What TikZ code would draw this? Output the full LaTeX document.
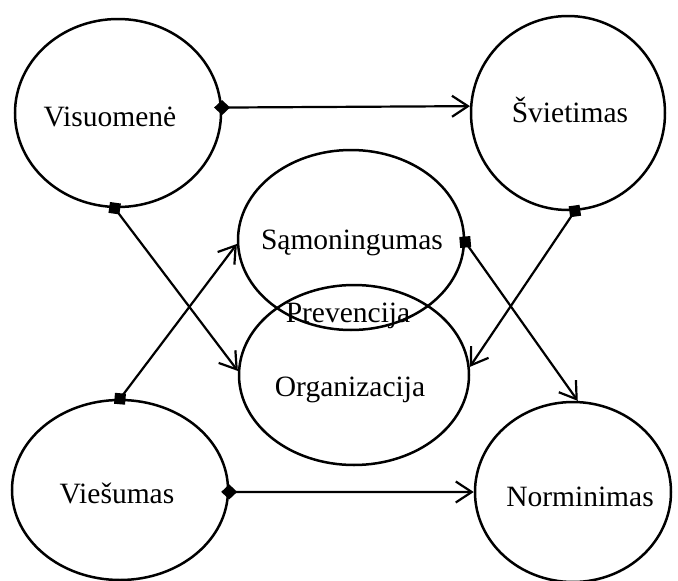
\documentclass[tikz,border=0pt]{standalone}
\usepackage{fontspec}
\setmainfont{Liberation Serif}
\usetikzlibrary{shapes.geometric,arrows.meta}
\begin{document}
\begin{tikzpicture}[x=1pt,y=-1pt,
  blob/.style={draw,ellipse,line width=2.5pt,inner sep=0pt},
  lab/.style={font=\fontsize{29.5}{34}\selectfont,inner sep=0pt},
  link/.style={line width=2.2pt,-{Straight Barb[length=16pt,width=21pt,line width=2.2pt]}},
  dstart/.style={{Diamond[length=16pt,width=15pt]}-{Straight Barb[length=16pt,width=21pt,line width=2.2pt]},shorten <=-8pt},
  sq/.style={fill=black,minimum size=11pt,inner sep=0pt,draw=none}]
\useasboundingbox (0,0) rectangle (678,581);
\node[blob,minimum width=206pt,minimum height=188pt] (vis) at (118,113) {};
\node[lab] at (110,117) {Visuomenė};
\node[blob,minimum width=194pt,minimum height=194pt] (svi) at (568,113) {};
\node[lab] at (570,110) {Švietimas};
\node[blob,minimum width=226pt,minimum height=180pt] (sam) at (351,240) {};
\node[lab] at (352,243) {Sąmoningumas};
\node[blob,minimum width=230pt,minimum height=180pt] (org) at (354,375) {};
\node[lab] at (350,390) {Organizacija};
\node[lab] (prev) at (348,316) {Prevencija};
\node[blob,minimum width=216pt,minimum height=180pt] (vie) at (120,490) {};
\node[lab] at (117,493) {Viešumas};
\node[blob,minimum width=196pt,minimum height=180pt] (nor) at (573,492) {};
\node[lab] at (580,497) {Norminimas};
\draw[link,dstart] (vis.3.3) -- (svi.176.4);
\draw[link] (vis.-92) -- (org.178.5);
\draw[link] (svi.-86) -- (org.4.5);
\draw[link] (sam.-1) -- (nor.87.5);
\draw[link] (vie.90) -- (sam.182.5);
\draw[link,dstart] (vie.-1.6) -- (nor.180.5);
\node[sq,rotate=-8] (s1) at (vis.-92) {};
\node[sq,rotate=8] (s2) at (svi.-86) {};
\node[sq,rotate=5] (s3) at (sam.-1) {};
\node[sq,rotate=-5] (s4) at (vie.90) {};
\end{tikzpicture}
\end{document}
